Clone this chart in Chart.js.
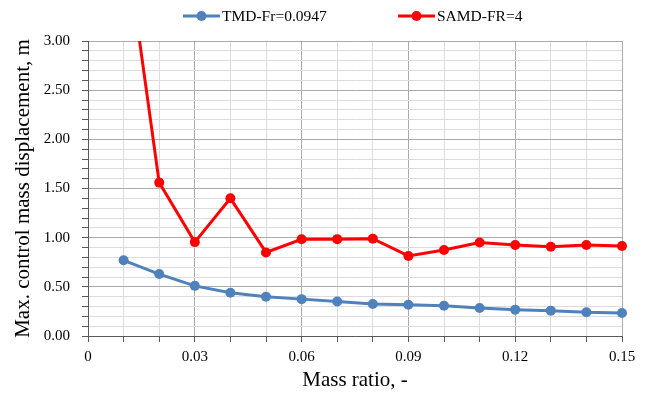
<!DOCTYPE html>
<html>
<head>
<meta charset="utf-8">
<script src="https://cdn.jsdelivr.net/npm/chart.js@4/dist/chart.umd.min.js"></script>
<style>
  html, body { margin: 0; padding: 0; background: #ffffff; }
  #wrap { width: 648px; height: 393px; position: relative; }
</style>
</head>
<body>
<div id="wrap"><canvas id="c" width="648" height="393"></canvas></div>
<script>
// ---- Data ----
const massRatio = [0.01, 0.02, 0.03, 0.04, 0.05, 0.06, 0.07, 0.08, 0.09, 0.10, 0.11, 0.12, 0.13, 0.14, 0.15];
const tmdValues = [0.77, 0.63, 0.51, 0.44, 0.40, 0.375, 0.35, 0.325, 0.318, 0.308, 0.285, 0.268, 0.258, 0.241, 0.234];
const samdValues = [4.17, 1.56, 0.955, 1.40, 0.85, 0.984, 0.985, 0.99, 0.814, 0.875, 0.95, 0.925, 0.908, 0.925, 0.915];
const seriesNames = ['TMD-Fr=0.0947', 'SAMD-FR=4'];
const seriesColors = ['#4F81BD', '#FF0000'];
const xTitle = 'Mass ratio, -';
const yTitle = 'Max. control mass displacement, m';

const FONT = '"Liberation Serif", "Times New Roman", serif';

function toXY(xs, ys) { return xs.map((x, i) => ({ x: x, y: ys[i] })); }

const legendPlugin = {
  id: 'lineLegend',
  afterDraw(chart) {
    const ctx = chart.ctx;
    const items = [
      { x: 183, ds: chart.data.datasets[0] },
      { x: 398, ds: chart.data.datasets[1] }
    ];
    ctx.save();
    items.forEach(it => {
      const y = 16;
      ctx.strokeStyle = it.ds.borderColor;
      ctx.lineWidth = 3;
      ctx.beginPath();
      ctx.moveTo(it.x, y);
      ctx.lineTo(it.x + 37, y);
      ctx.stroke();
      ctx.fillStyle = it.ds.borderColor;
      ctx.beginPath();
      ctx.arc(it.x + 18.5, y, 5, 0, Math.PI * 2);
      ctx.fill();
      ctx.fillStyle = '#000000';
      ctx.font = '15.5px ' + FONT;
      ctx.textBaseline = 'middle';
      ctx.textAlign = 'left';
      ctx.fillText(it.ds.label, it.x + 39, y + 1);
    });
    ctx.restore();
  }
};

const majorGrid = '#ababab';
const minorGrid = '#dcdcdc';
const axisColor = '#595959';

new Chart(document.getElementById('c'), {
  type: 'line',
  data: {
    datasets: [
      {
        label: seriesNames[0],
        data: toXY(massRatio, tmdValues),
        borderColor: seriesColors[0],
        backgroundColor: seriesColors[0],
        borderWidth: 3,
        pointRadius: 5,
        pointHoverRadius: 5,
        pointBorderWidth: 0,
        tension: 0,
        clip: { left: 8, right: 8, top: 0, bottom: 8 }
      },
      {
        label: seriesNames[1],
        data: toXY(massRatio, samdValues),
        borderColor: seriesColors[1],
        backgroundColor: seriesColors[1],
        borderWidth: 3,
        pointRadius: 5,
        pointHoverRadius: 5,
        pointBorderWidth: 0,
        tension: 0,
        clip: { left: 8, right: 8, top: 0, bottom: 8 }
      }
    ]
  },
  options: {
    responsive: false,
    animation: false,
    devicePixelRatio: 1,
    layout: { padding: { top: 41, right: 26, left: 0, bottom: 0 } },
    plugins: {
      legend: { display: false },
      tooltip: { enabled: false }
    },
    scales: {
      x: {
        type: 'linear',
        min: 0,
        max: 0.15,
        afterFit(scale) { scale.height = 57; },
        ticks: {
          stepSize: 0.01,
          autoSkip: false,
          maxRotation: 0,
          padding: 6,
          color: '#000000',
          font: { family: FONT, size: 15 },
          callback(v) {
            const r = Math.round(v * 100);
            if (r % 3 !== 0) return '';
            return r === 0 ? '0' : (r / 100).toFixed(2);
          }
        },
        grid: {
          color(ctx) {
            const r = Math.round(ctx.tick.value * 100);
            return r % 3 === 0 ? majorGrid : minorGrid;
          },
          lineWidth: 1,
          tickLength: 6,
          tickColor: axisColor
        },
        border: { color: axisColor, width: 1 },
        title: {
          display: true,
          text: xTitle,
          color: '#000000',
          font: { family: FONT, size: 21 },
          padding: { top: 0, bottom: 0 }
        }
      },
      y: {
        min: 0,
        max: 3,
        afterFit(scale) { scale.width = 88; },
        ticks: {
          stepSize: 0.1,
          autoSkip: false,
          padding: 12,
          color: '#000000',
          font: { family: FONT, size: 15 },
          callback(v) {
            const r = Math.round(v * 10);
            return r % 5 === 0 ? (r / 10).toFixed(2) : '';
          }
        },
        grid: {
          color(ctx) {
            const r = Math.round(ctx.tick.value * 10);
            return r % 5 === 0 ? majorGrid : minorGrid;
          },
          lineWidth: 1,
          tickLength: 6,
          tickColor: axisColor
        },
        border: { color: axisColor, width: 1 },
        title: {
          display: true,
          text: yTitle,
          color: '#000000',
          font: { family: FONT, size: 21 },
          padding: { top: 11, bottom: 0 }
        }
      }
    }
  },
  plugins: [legendPlugin]
});
</script>
</body>
</html>
